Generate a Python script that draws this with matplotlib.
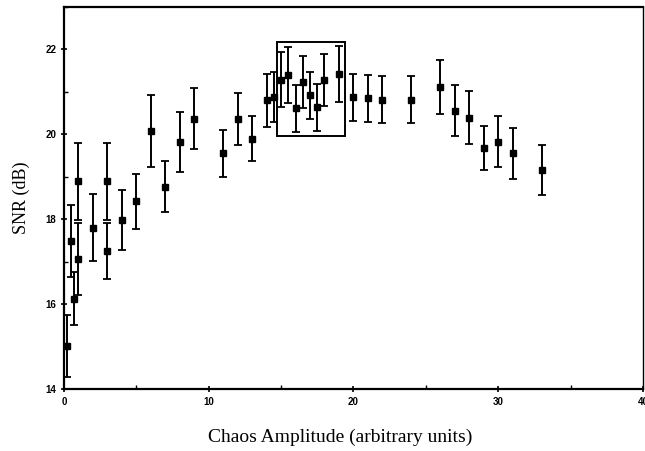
import matplotlib
matplotlib.use("Agg")
import matplotlib.pyplot as plt
from matplotlib.patches import Rectangle
from matplotlib.ticker import MultipleLocator

# Chaos amplitude (arbitrary units), SNR (dB) and its error half-width
amplitude = [0.2, 0.5, 0.7, 1.0, 1.0, 2.0, 3.0, 3.0, 4.0, 5.0,
             6.0, 7.0, 8.0, 9.0, 11.0, 12.0, 13.0, 14.0, 14.5, 15.0,
             15.5, 16.0, 16.5, 17.0, 17.5, 18.0, 19.0, 20.0, 21.0, 22.0,
             24.0, 26.0, 27.0, 28.0, 29.0, 30.0, 31.0, 33.0]
snr = [15.01, 17.48, 16.13, 18.89, 17.07, 17.80, 18.89, 17.25, 17.98, 18.42,
       20.08, 18.76, 19.82, 20.37, 19.55, 20.36, 19.89, 20.80, 20.88, 21.29,
       21.39, 20.61, 21.23, 20.92, 20.64, 21.28, 21.42, 20.87, 20.85, 20.82,
       20.82, 21.11, 20.56, 20.39, 19.68, 19.82, 19.55, 19.16]
snr_err = [0.73, 0.85, 0.63, 0.90, 0.85, 0.79, 0.90, 0.65, 0.70, 0.65,
           0.84, 0.60, 0.70, 0.72, 0.56, 0.61, 0.53, 0.62, 0.60, 0.65,
           0.66, 0.56, 0.62, 0.56, 0.55, 0.62, 0.67, 0.56, 0.55, 0.56,
           0.55, 0.64, 0.61, 0.62, 0.52, 0.60, 0.60, 0.60]

# Highlighted region (x0, x1, y0, y1)
box_x = [14.75, 19.45]
box_y = [19.95, 22.18]

fig = plt.figure(figsize=(6.45, 4.51), dpi=100)
ax = fig.add_axes([0.099, 0.1375, 0.898, 0.847])

ax.errorbar(amplitude, snr, yerr=snr_err, fmt="s", color="black",
            markersize=5.0, elinewidth=1.4, capsize=2.6, capthick=1.3,
            ecolor="black")

ax.add_patch(Rectangle((box_x[0], box_y[0]), box_x[1] - box_x[0],
                       box_y[1] - box_y[0], fill=False, edgecolor="black",
                       linewidth=1.4))

ax.set_xlim(0, 40)
ax.set_ylim(14, 23)
ax.xaxis.set_major_locator(MultipleLocator(10))
ax.xaxis.set_minor_locator(MultipleLocator(5))
ax.yaxis.set_major_locator(MultipleLocator(2))
ax.yaxis.set_minor_locator(MultipleLocator(1))

for s in ax.spines.values():
    s.set_linewidth(1.6)
ax.spines["right"].set_linewidth(1.0)

ax.tick_params(which="major", direction="inout", length=5, width=1.2,
               labelsize=7, pad=3)
ax.tick_params(which="minor", direction="in", length=3, width=1.0)
for lbl in ax.get_xticklabels() + ax.get_yticklabels():
    lbl.set_fontfamily("Liberation Sans")
    lbl.set_fontweight("bold")

ax.set_ylabel("SNR (dB)", family="Liberation Serif", fontsize=13,
              labelpad=11)
fig.text(0.527, 0.02, "Chaos Amplitude (arbitrary units)",
         family="Liberation Serif", fontsize=14, ha="center", va="baseline")

fig.savefig("out.png", dpi=100)
